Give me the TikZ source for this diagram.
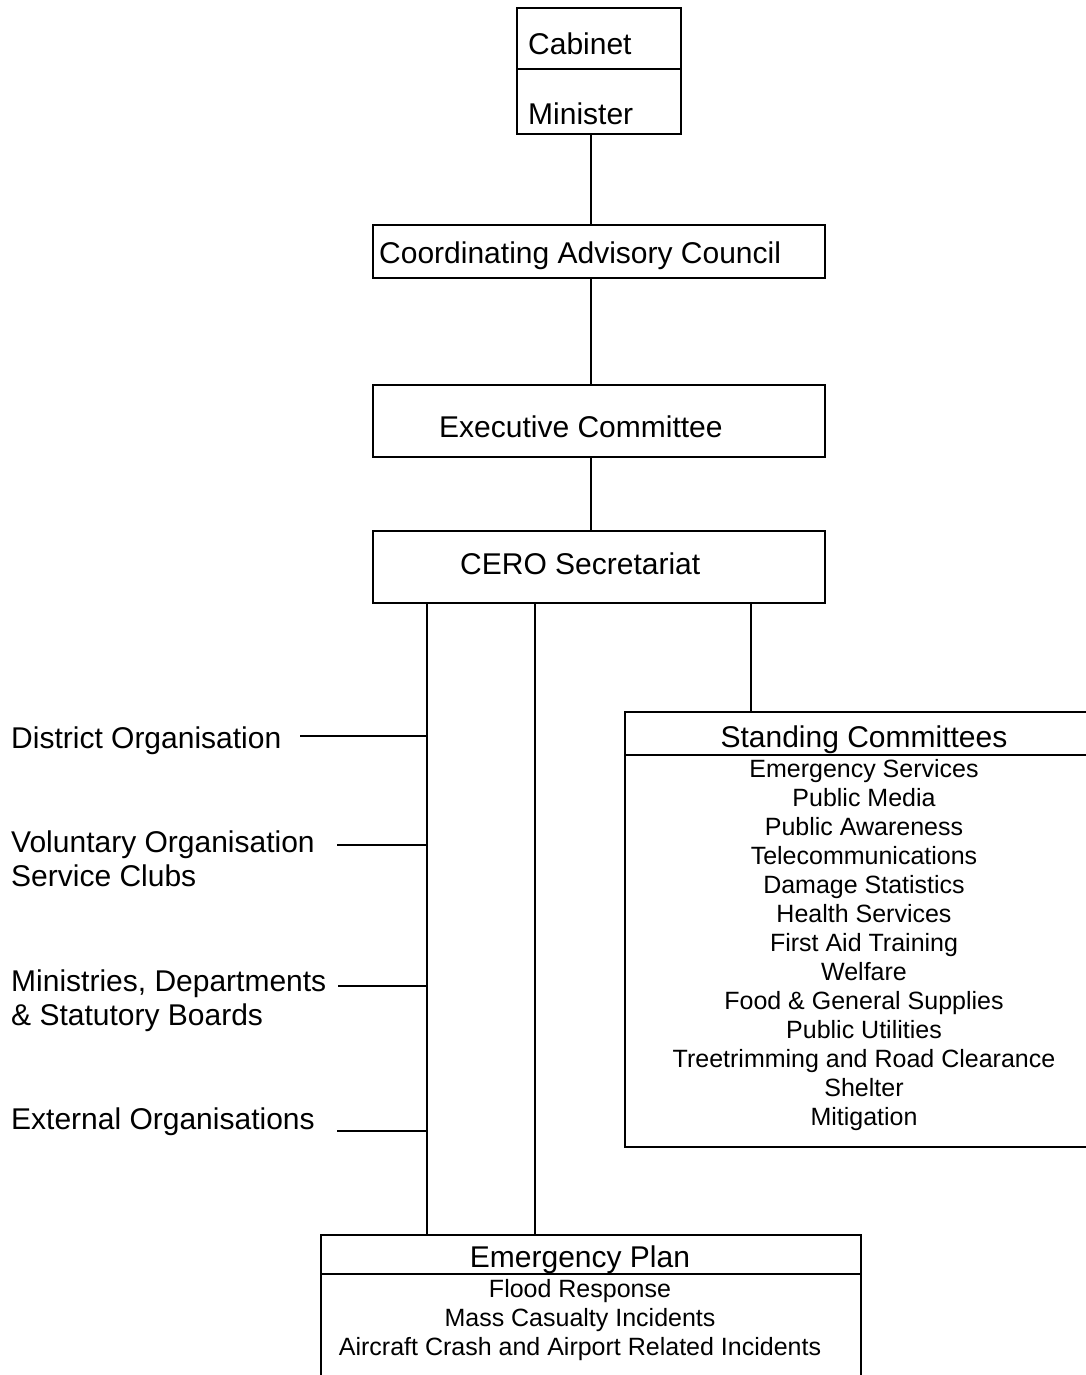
\documentclass[tikz,border=0pt]{standalone}
\usepackage{fontspec}
\setmainfont{Liberation Sans}
\usetikzlibrary{positioning}

\tikzset{
  box/.style={draw, line width=2pt, inner sep=0pt, anchor=north west},
  big/.style={font=\fontsize{30}{34}\selectfont, inner sep=0pt},
  small/.style={font=\fontsize{25}{29}\selectfont, inner sep=0pt},
  link/.style={line width=1.8pt}
}

\begin{document}
\begin{tikzpicture}[x=1pt,y=-1pt]
\useasboundingbox (0,0) rectangle (1086,1375);
\clip (0,0) rectangle (1086,1375);

% top boxes
\node[box, minimum width=164pt, minimum height=61pt] (cab) at (516,7) {};
\node[box, minimum width=164pt, minimum height=65pt] (mini) at (516,68) {};
\node[big, anchor=base west] (cabt) at (528,55) {Cabinet};
\node[big, anchor=base west] (minit) at (528,125) {Minister};

\node[box, minimum width=452pt, minimum height=53pt] (cac) at (372,224) {};
\node[big, anchor=base west] (cact) at (379,263) {Coordinating Advisory Council};

\node[box, minimum width=452pt, minimum height=72pt] (exec) at (372,384) {};
\node[big, anchor=base west] (exect) at (439,437) {Executive Committee};

\node[box, minimum width=452pt, minimum height=72pt] (cero) at (372,530) {};
\node[big, anchor=base west] (cerot) at (460,574) {CERO Secretariat};

\draw[link] ([xshift=-8pt]mini.south) -- ([xshift=-8pt]cac.north);
\draw[link] ([xshift=-8pt]cac.south) -- ([xshift=-8pt]exec.north);
\draw[link] ([xshift=-8pt]exec.south) -- ([xshift=-8pt]cero.north);

% standing committees
\node[box, minimum width=480pt, minimum height=43pt] (stand) at (624,711) {};
\node[box, minimum width=480pt, minimum height=392pt] (standl) at (624,754) {};
\node[big, anchor=base] (standt) at (864,747) {Standing Committees};
\foreach \t [count=\i from 0] in {Emergency Services, Public Media, Public Awareness,
  Telecommunications, Damage Statistics, Health Services, First Aid Training, Welfare,
  Food \& General Supplies, Public Utilities, Treetrimming and Road Clearance, Shelter,
  Mitigation}
  \node[small, anchor=base] (sc\i) at (864,777+29*\i) {\t};

% emergency plan
\node[box, minimum width=540pt, minimum height=39pt] (plan) at (320,1234) {};
\node[box, minimum width=540pt, minimum height=130pt] (planl) at (320,1273) {};
\node[big, anchor=base] (plant) at (580,1267) {Emergency Plan};
\foreach \t [count=\i from 0] in {Flood Response, Mass Casualty Incidents,
  Aircraft Crash and Airport Related Incidents}
  \node[small, anchor=base] (ep\i) at (580,1297+29*\i) {\t};

% lines down from the secretariat
\coordinate (spine) at ([xshift=55pt]cero.south west);
\coordinate (spineb) at ([xshift=163pt]cero.south west);
\coordinate (spinec) at ([xshift=379pt]cero.south west);
\draw[link] (spine) -- (spine |- plan.north);
\draw[link] (spineb) -- (spineb |- plan.north);
\draw[link] (spinec) -- (spinec |- stand.north);

% outside bodies
\node[big, anchor=base west] (dist) at (11,748) {District Organisation};
\node[big, anchor=base west, align=left] (volu) at (11,886) {Voluntary Organisation\\Service Clubs};
\node[big, anchor=base west, align=left] (mini2) at (11,1025) {Ministries, Departments\\\& Statutory Boards};
\node[big, anchor=base west] (extn) at (11,1129) {External Organisations};

\coordinate (distend) at (300,736);
\coordinate (voluend) at (337,845);
\coordinate (miniend) at (338,986);
\coordinate (extnend) at (337,1131);
\foreach \c in {distend, voluend, miniend, extnend}
  \draw[link] (\c) -- (\c -| spine);

\end{tikzpicture}
\end{document}
